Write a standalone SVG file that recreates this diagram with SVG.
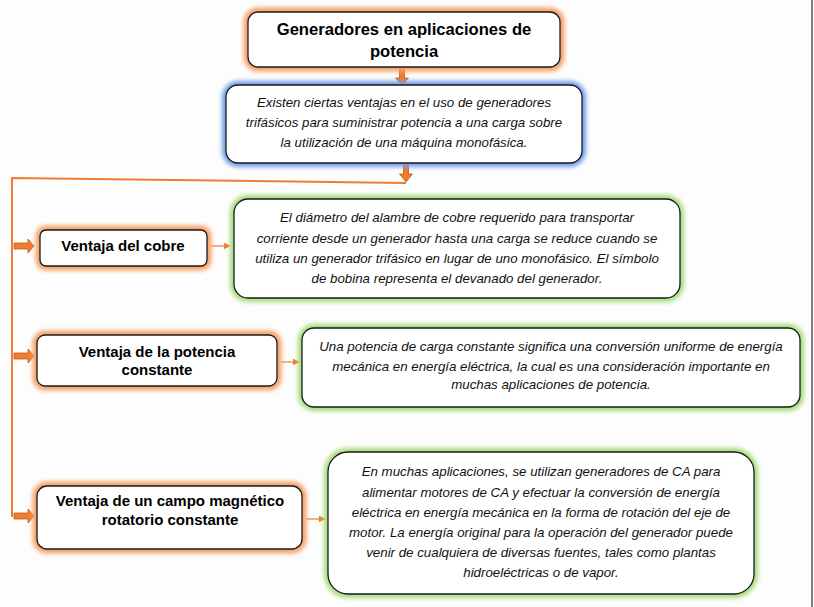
<svg xmlns="http://www.w3.org/2000/svg" width="814" height="607" viewBox="0 0 814 607">
<defs>
<filter id="glow" x="-20%" y="-40%" width="140%" height="180%"><feGaussianBlur stdDeviation="2.2"/></filter>
<marker id="ah" viewBox="0 0 10 10" refX="9" refY="5" markerWidth="7" markerHeight="7" markerUnits="userSpaceOnUse" orient="auto"><path d="M0,0 L10,5 L0,10 z" fill="#ed7d31"/></marker>
</defs>
<style>
.bg{fill:#fdfdfd}
.box{fill:#fff;stroke:#1a1a1a;stroke-width:1.3}
.go{fill:none;stroke:#f6a067;stroke-width:9;filter:url(#glow)}
.gb{fill:none;stroke:#6f9fe8;stroke-width:8;filter:url(#glow)}
.gg{fill:none;stroke:#a6db78;stroke-width:8;filter:url(#glow)}
.hd{font-family:"Liberation Sans",Arial,sans-serif;font-weight:bold;fill:#000;text-anchor:middle}
.it{font-family:"Liberation Sans",Arial,sans-serif;font-style:italic;font-size:13.3px;fill:#111;text-anchor:middle}
.ln{fill:none;stroke:#ed7d31;stroke-width:2}
.ba{fill:#ed7d31;stroke:#c55a11;stroke-width:0.8}
.sm{fill:none;stroke:#ed7d31;stroke-width:1.2;marker-end:url(#ah)}
</style>
<rect class="bg" x="0" y="0" width="814" height="607"/>
<line x1="812" y1="0" x2="812" y2="607" stroke="#7f7f7f" stroke-width="2"/>

<g id="connectors">
<path class="ba" d="M399.5,67 h5 v11 h4 l-6.5,7 l-6.5,-7 h4 z"/>
<path class="ba" d="M403.5,163 h5 v11 h4 l-6.5,8 l-6.5,-8 h4 z"/>
<path class="ln" d="M406,183 L12,178 L12,517"/>
<path class="ba" d="M14,243 h14 v-4 l6,7 l-6,7 v-4 h-14 z"/>
<path class="ba" d="M14,353 h14 v-4 l6,7 l-6,7 v-4 h-14 z"/>
<path class="ba" d="M14,513 h14 v-4 l6,7 l-6,7 v-4 h-14 z"/>
<line class="sm" x1="211" y1="246" x2="230" y2="246"/>
<line class="sm" x1="281" y1="362" x2="299" y2="362"/>
<line class="sm" x1="306" y1="519" x2="325" y2="519"/>
</g>

<g id="title">
<rect class="go" x="248" y="12" width="312" height="55" rx="10"/>
<rect class="box" x="248" y="12" width="312" height="55" rx="10"/>
<text class="hd" font-size="16.6" x="404" y="35">Generadores en aplicaciones de</text>
<text class="hd" font-size="16.6" x="404" y="57">potencia</text>
</g>

<g id="intro">
<rect class="gb" x="226" y="85" width="356" height="78" rx="12"/>
<rect class="box" x="226" y="85" width="356" height="78" rx="12"/>
<text class="it" x="404" y="107">Existen ciertas ventajas en el uso de generadores</text>
<text class="it" x="404" y="127">trifásicos para suministrar potencia a una carga sobre</text>
<text class="it" x="404" y="147">la utilización de una máquina monofásica.</text>
</g>

<g id="cobre">
<rect class="go" x="40" y="230" width="167" height="36" rx="6"/>
<rect class="box" x="40" y="230" width="167" height="36" rx="6"/>
<text class="hd" font-size="15" x="123" y="251">Ventaja del cobre</text>
</g>

<g id="cobre-desc">
<rect class="gg" x="234" y="199" width="446" height="99" rx="14"/>
<rect class="box" x="234" y="199" width="446" height="99" rx="14"/>
<text class="it" x="457" y="222">El diámetro del alambre de cobre requerido para transportar</text>
<text class="it" x="457" y="243">corriente desde un generador hasta una carga se reduce cuando se</text>
<text class="it" x="457" y="263">utiliza un generador trifásico en lugar de uno monofásico. El símbolo</text>
<text class="it" x="457" y="283">de bobina representa el devanado del generador.</text>
</g>

<g id="potencia">
<rect class="go" x="37" y="335" width="240" height="51" rx="8"/>
<rect class="box" x="37" y="335" width="240" height="51" rx="8"/>
<text class="hd" font-size="15" x="157" y="357">Ventaja de la potencia</text>
<text class="hd" font-size="15" x="157" y="375">constante</text>
</g>

<g id="potencia-desc">
<rect class="gg" x="302" y="328" width="498" height="79" rx="12"/>
<rect class="box" x="302" y="328" width="498" height="79" rx="12"/>
<text class="it" x="551" y="351">Una potencia de carga constante significa una conversión uniforme de energía</text>
<text class="it" x="551" y="371">mecánica en energía eléctrica, la cual es una consideración importante en</text>
<text class="it" x="551" y="389">muchas aplicaciones de potencia.</text>
</g>

<g id="campo">
<rect class="go" x="37" y="486" width="265" height="63" rx="10"/>
<rect class="box" x="37" y="486" width="265" height="63" rx="10"/>
<text class="hd" font-size="15" x="170" y="506">Ventaja de un campo magnético</text>
<text class="hd" font-size="15" x="170" y="525">rotatorio constante</text>
</g>

<g id="campo-desc">
<rect class="gg" x="328" y="452" width="426" height="142" rx="20"/>
<rect class="box" x="328" y="452" width="426" height="142" rx="20"/>
<text class="it" x="541" y="476">En muchas aplicaciones, se utilizan generadores de CA para</text>
<text class="it" x="541" y="497">alimentar motores de CA y efectuar la conversión de energía</text>
<text class="it" x="541" y="517">eléctrica en energía mecánica en la forma de rotación del eje de</text>
<text class="it" x="541" y="537">motor. La energía original para la operación del generador puede</text>
<text class="it" x="541" y="557">venir de cualquiera de diversas fuentes, tales como plantas</text>
<text class="it" x="541" y="577">hidroeléctricas o de vapor.</text>
</g>
</svg>
